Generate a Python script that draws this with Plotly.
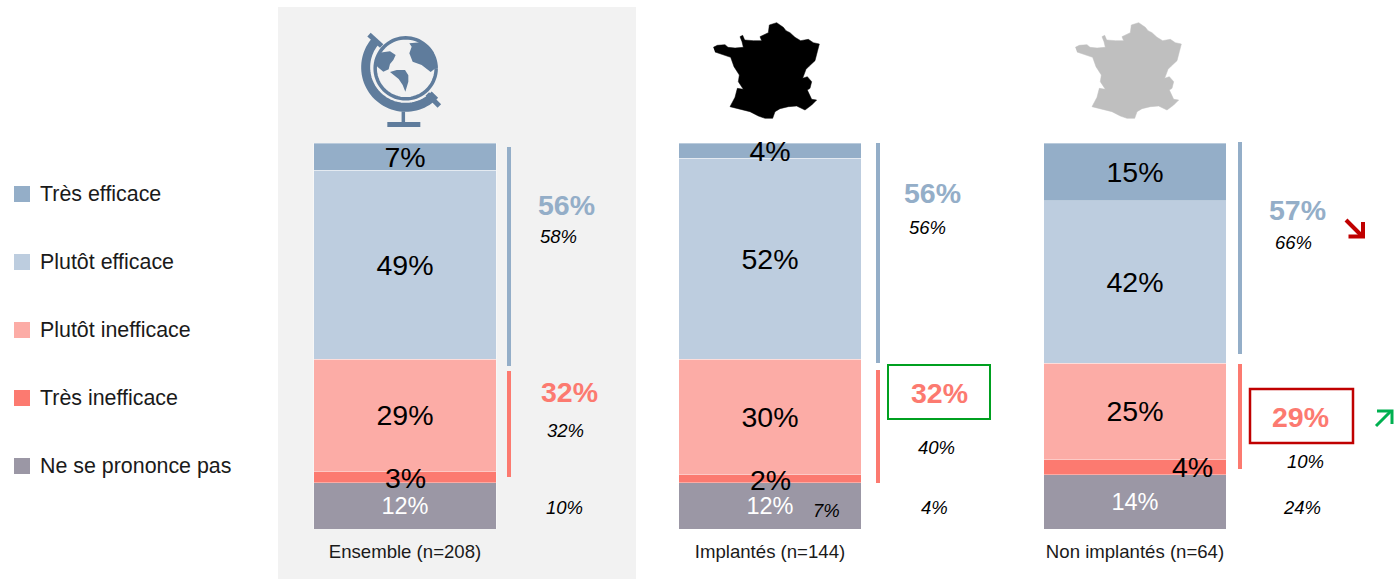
import numpy as np
import plotly.graph_objects as go

W, H = 1396, 579
FONT = "Liberation Sans, Arial, sans-serif"

# ---- data ----
groups = ["Ensemble (n=208)", "Implantés (n=144)", "Non implantés (n=64)"]
tres_efficace = [7, 4, 15]
plutot_efficace = [49, 52, 42]
plutot_inefficace = [29, 30, 25]
tres_inefficace = [3, 2, 4]
ne_se_prononce_pas = [12, 12, 14]

legend_names = ["Très efficace", "Plutôt efficace", "Plutôt inefficace", "Très inefficace", "Ne se prononce pas"]
colors = ["#94aec8", "#bdcddf", "#fcaca6", "#fc7a70", "#9b97a5"]

total_efficace = ["56%", "56%", "57%"]
total_efficace_prev = ["58%", "56%", "66%"]
total_inefficace = ["32%", "32%", "29%"]
total_inefficace_prev = ["32%", "40%", "10%"]
nsp_prev = ["10%", "4%", "24%"]

# ---- pixel layout helpers ----
BAR_TOP, BAR_BOTTOM = 143, 529
PITCH = 365
CENTER0 = 405

fig = go.Figure()

series = [
    (ne_se_prononce_pas, 4, "white"),
    (tres_inefficace, 3, "black"),
    (plutot_inefficace, 2, "black"),
    (plutot_efficace, 1, "black"),
    (tres_efficace, 0, "black"),
]
for vals, idx, tc in series:
    txt = [f"{v}%" for v in vals]
    if vals is tres_inefficace:
        txt = ["", "", ""]  # small segments: labelled separately below
    fig.add_bar(
        x=groups, y=vals, name=legend_names[idx], width=0.5,
        marker=dict(color=colors[idx], line=dict(color="rgba(255,255,255,0.6)", width=0.6)),
        text=txt, textposition="inside", insidetextanchor="middle", textangle=0,
        constraintext="none", cliponaxis=False,
        insidetextfont=dict(size=23.5 if idx == 4 else 28.5, color=tc, family=FONT),
        showlegend=False, hoverinfo="skip",
    )

# France outlines in pixels (icon artwork)
fr_zoom = np.array([
    (40,112),(52,106),(75,104),(84,112),(105,114),(130,112),(126,95),(120,80),(128,76),(134,90),(160,92),(185,92),
    (180,80),(192,74),(205,68),(208,45),(230,38),(250,52),(258,62),(270,68),(285,82),(302,92),(325,88),(340,98),(358,102),
    (352,125),(345,152),(328,168),(318,178),(308,205),(322,200),(335,215),(330,235),(322,240),(335,268),(350,270),(335,285),(315,300),
    (290,288),(265,290),(240,296),(225,305),(218,325),(195,325),(175,318),(150,305),(120,298),(90,290),(105,262),(112,235),(130,238),
    (115,215),(118,195),(102,170),(92,142),(70,134),(45,126),
])
for dx, col in [(700, "black"), (1062, "#bfbfbf")]:
    fig.add_scatter(
        x=fr_zoom[:, 0] / 3 + dx, y=fr_zoom[:, 1] / 3 + 10, mode="lines", fill="toself",
        fillcolor=col, line=dict(color=col, width=0.5), xaxis="x2", yaxis="y2",
        showlegend=False, hoverinfo="skip",
    )

shapes, annots = [], []


def rect(x0, y0, x1, y1, fill=None, line=None, lw=0, layer="above"):
    shapes.append(dict(type="rect", xref="x2", yref="y2", x0=x0, y0=y0, x1=x1, y1=y1, layer=layer,
                       fillcolor=fill or "rgba(0,0,0,0)", line=dict(color=line or "rgba(0,0,0,0)", width=lw)))


def seg(x0, y0, x1, y1, col, lw):
    shapes.append(dict(type="line", xref="x2", yref="y2", x0=x0, y0=y0, x1=x1, y1=y1, line=dict(color=col, width=lw)))


def label(x, y, text, size, col="black", anchor="center"):
    annots.append(dict(xref="x2", yref="y2", x=x, y=y, text=text, showarrow=False, xanchor=anchor, yanchor="middle",
                       font=dict(size=size, color=col, family=FONT)))


def poly(pts, col, close=True, lw=0, linecol=None):
    d = "M" + " L".join(f"{x:.2f},{y:.2f}" for x, y in pts) + (" Z" if close else "")
    shapes.append(dict(type="path", xref="x2", yref="y2", path=d,
                       fillcolor=col if close else "rgba(0,0,0,0)",
                       line=dict(color=linecol or col, width=lw)))


# grey panel (paper refs so that it stays underneath the bars)
shapes.append(dict(type="rect", xref="paper", yref="paper", x0=278 / W, x1=636 / W, y0=0, y1=1 - 7 / H,
                   layer="below", fillcolor="#f2f2f2", line=dict(width=0)))

# legend
for name, col, yc in zip(legend_names, colors, [194, 262, 330, 398, 466]):
    rect(14, yc - 8, 30, yc + 8, fill=col)
    label(38, yc - 0.5, name, 21.4, "#1a1a1a", "left")

# bracket lines
BLUE, RED = colors[0], colors[3]
for x, (a, b), (c, d) in [(509, (147, 366), (371, 477)), (878, (143, 363), (370, 483)), (1240, (142, 354), (364, 469))]:
    seg(x, a, x, b, BLUE, 4)
    seg(x, c, x, d, RED, 4)

# side labels
for xb, yb, xs, ys, t, tp in [(566, 205, 558, 236, total_efficace[0], total_efficace_prev[0]),
                              (932, 193, 927, 227, total_efficace[1], total_efficace_prev[1]),
                              (1297, 210, 1293, 242, total_efficace[2], total_efficace_prev[2])]:
    label(xb, yb, f"<b>{t}</b>", 28.5, BLUE)
    label(xs, ys, f"<i>{tp}</i>", 18.5)
for xb, yb, xs, ys, t, tp in [(569, 392, 565, 430, total_inefficace[0], total_inefficace_prev[0]),
                              (939, 393, 936, 447, total_inefficace[1], total_inefficace_prev[1]),
                              (1300, 417, 1305, 461, total_inefficace[2], total_inefficace_prev[2])]:
    label(xb, yb, f"<b>{t}</b>", 28.5, RED)
    label(xs, ys, f"<i>{tp}</i>", 18.5)
for x, t in zip([564, 934, 1302], nsp_prev):
    label(x, 507, f"<i>{t}</i>", 18.5)
label(826, 510, "<i>7%</i>", 18.5)
# labels of the thin "très inefficace" segments
for x, y, v in zip([405, 770, 1192], [478, 480, 467], tres_inefficace):
    label(x, y, f"{v}%", 28.5)

# highlight boxes
rect(888, 365, 990, 419, line="#00a020", lw=2)
rect(1250, 389, 1353, 443, line="#c00000", lw=2.5)

# arrows
seg(1346, 220, 1361, 235, "#c00000", 4)
poly([(1363, 222), (1363, 236.5), (1348.5, 236.5)], "#c00000", close=False, lw=4)
seg(1376, 426, 1391, 411, "#00b050", 3)
poly([(1377, 411), (1392, 411), (1392, 424)], "#00b050", close=False, lw=3)

# globe icon (zoom coords /3 + origin)
GL = "#5f7c9c"
def gz(x, y):
    return (x / 3 + 340, y / 3 + 10)
cx, cy = gz(197, 175)
t = np.linspace(0, 2 * np.pi, 73)
poly([(cx + 30.5 * np.cos(a), cy + 30.5 * np.sin(a)) for a in t], "rgba(0,0,0,0)", close=False, lw=3.5, linecol=GL)
acx, acy = gz(197, 172)
t2 = np.radians(np.linspace(43, 222, 50))
poly([(acx + 40 * np.cos(a), acy + 40 * np.sin(a)) for a in t2], "rgba(0,0,0,0)", close=False, lw=9, linecol=GL)
seg(*gz(87, 74), *gz(125, 108), GL, 5)
seg(*gz(262, 252), *gz(298, 288), GL, 5)
seg(*gz(190, 305), *gz(190, 340), GL, 3.5)
rect(*gz(142, 336), *gz(241, 351), fill=GL)
for cont in [
    [(118,128),(150,124),(167,135),(160,150),(150,162),(146,178),(130,185),(112,170),(104,150)],
    [(150,186),(170,180),(195,180),(205,196),(205,215),(196,245),(188,225),(176,207)],
    [(208,100),(250,96),(280,125),(292,170),(272,186),(245,165),(218,155),(208,130),(215,110)],
]:
    poly([gz(*p) for p in cont], GL)

fig.update_layout(
    width=W, height=H, margin=dict(l=0, r=0, t=0, b=0), paper_bgcolor="white", plot_bgcolor="rgba(0,0,0,0)",
    barmode="stack", bargap=0.5, showlegend=False, shapes=shapes, annotations=annots,
    font=dict(family=FONT),
    xaxis=dict(domain=[(CENTER0 - PITCH / 2) / W, (CENTER0 + 2.5 * PITCH) / W], range=[-0.5, 2.5], type="category",
               showgrid=False, zeroline=False, showline=False, ticks="outside", ticklen=6, tickcolor="rgba(0,0,0,0)",
               tickfont=dict(size=18.6, color="#1a1a1a", family=FONT)),
    yaxis=dict(domain=[1 - BAR_BOTTOM / H, 1 - BAR_TOP / H], range=[0, 100], visible=False),
    xaxis2=dict(domain=[0, 1], range=[0, W], visible=False, anchor="y2"),
    yaxis2=dict(domain=[0, 1], range=[H, 0], visible=False, anchor="x2"),
)
fig.write_html("out.html", post_script="document.body.style.margin='0';document.body.style.overflow='hidden';",
               config=dict(displayModeBar=False))
